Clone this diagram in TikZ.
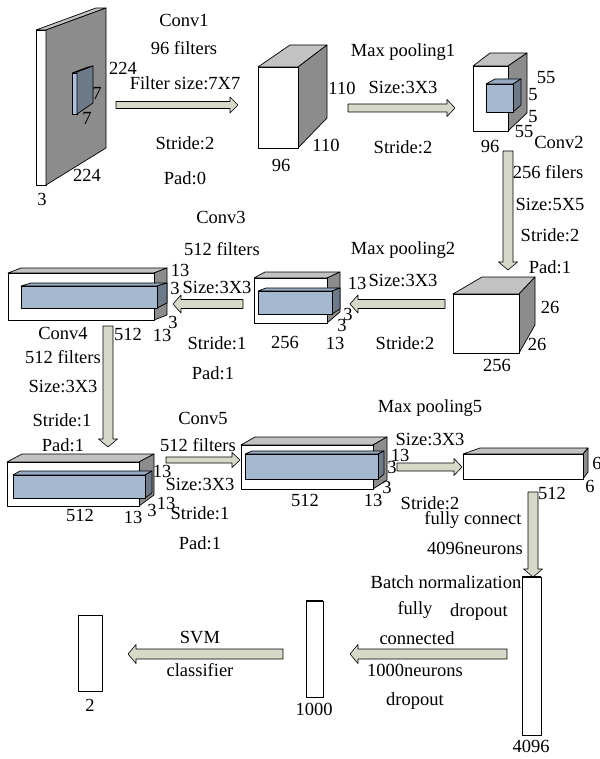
\documentclass[tikz,border=0pt]{standalone}
\usepackage{fontspec}
\setmainfont{Liberation Serif}
\usetikzlibrary{calc}
\definecolor{arrowfill}{RGB}{214,217,200}
\definecolor{sidegrey}{RGB}{140,140,140}
\definecolor{topgrey}{RGB}{194,194,194}
\definecolor{blueface}{RGB}{164,184,208}
\definecolor{blueside}{RGB}{108,122,138}
\definecolor{bluetop}{RGB}{150,170,196}
\definecolor{filterface}{RGB}{170,192,222}
\newcommand\harrow[3]{\filldraw[arr] let \p1=(#1), \p2=(#2), \n1={sign(\x2-\x1)} in
 (\x1,{\y1+#3pt}) -- ({\x2-(\n1)*8pt},{\y1+#3pt}) -- ({\x2-(\n1)*8pt},{\y1+#3pt+4.5pt}) -- (\x2,\y1)
 -- ({\x2-(\n1)*8pt},{\y1-#3pt-4.5pt}) -- ({\x2-(\n1)*8pt},{\y1-#3pt}) -- (\x1,{\y1-#3pt}) -- cycle;}
\newcommand\varrow[3]{\filldraw[arr] let \p1=(#1), \p2=(#2) in
 ({\x1-#3pt},\y1) -- ({\x1-#3pt},{\y2+8pt}) -- ({\x1-#3pt-4.5pt},{\y2+8pt}) -- (\x1,\y2)
 -- ({\x1+#3pt+4.5pt},{\y2+8pt}) -- ({\x1+#3pt},{\y2+8pt}) -- ({\x1+#3pt},\y1) -- cycle;}
\begin{document}
\begin{tikzpicture}[x=1pt,y=-1pt,
  lab/.style={font=\fontsize{18.5}{20}\selectfont, inner sep=0pt},
  face/.style={draw=black, line width=0.7pt, line join=round},
  wf/.style={face, fill=white},
  sf/.style={face, fill=sidegrey},
  tf/.style={face, fill=topgrey},
  bf/.style={face, fill=blueface},
  bs/.style={face, fill=blueside},
  bt/.style={face, fill=bluetop},
  bartop/.style={draw=black, line width=1.6pt},
  arr/.style={draw=black, line width=0.6pt, fill=arrowfill, line join=round}]
\useasboundingbox[fill=white] (0,0) rectangle (599,759);

% ---- block 1: input
\draw[tf] (36,30) -- (46,30) -- (106,8) -- (96,8) -- cycle;
\draw[wf] (36,30) rectangle (46,185);
\draw[sf] (46,30) -- (106,8) -- (106,148) -- (46,185) -- cycle;
\draw[face, fill=filterface] (72,73) rectangle (77,114);
\draw[bt] (72,73) -- (77,72) -- (93,66) -- (88,67) -- cycle;
\draw[bs] (77,72) -- (93,66) -- (93,103) -- (77,114) -- cycle;
\node[lab] (b1a) at (123,68) {224};
\node[lab] (b1b) at (97,93) {7};
\node[lab] (b1c) at (87,118) {7};
\node[lab] (b1d) at (87,175) {224};
\node[lab] (b1e) at (42,199) {3};
% conv1 text
\node[lab] (c1a) at (184,20) {Conv1};
\node[lab] (c1b) at (184,48) {96 filters};
\node[lab] (c1c) at (185,83) {Filter size:7X7};
\node[lab] (c1d) at (185,143) {Stride:2};
\node[lab] (c1e) at (185,178) {Pad:0};
\coordinate (a1s) at (116,105); \coordinate (a1e) at (238,105);
\harrow{a1s}{a1e}{3.5}

% ---- block 2
\draw[tf] (258,67) -- (290,45) -- (327,45) -- (298,67) -- cycle;
\draw[sf] (298,67) -- (327,45) -- (327,118) -- (298,148) -- cycle;
\draw[wf] (258,67) rectangle (298,148);
\node[lab] (b2a) at (342,88) {110};
\node[lab] (b2b) at (326,145) {110};
\node[lab] (b2c) at (281,165) {96};
\node[lab] (p1a) at (403,52) {Max pooling1};
\node[lab] (p1b) at (403,88) {Size:3X3};
\node[lab] (p1c) at (403,147) {Stride:2};
\coordinate (a2s) at (348,108); \coordinate (a2e) at (455,108);
\harrow{a2s}{a2e}{4}

% ---- block 3
\draw[tf] (473,66) -- (490,53) -- (527,53) -- (508,66) -- cycle;
\draw[sf] (508,66) -- (527,53) -- (527,113) -- (508,131) -- cycle;
\draw[wf] (473,66) rectangle (508,131);
\draw[bt] (486,84) -- (495,79) -- (521,79) -- (513,84) -- cycle;
\draw[bs] (513,84) -- (521,79) -- (521,105) -- (513,112) -- cycle;
\draw[bf] (486,84) rectangle (513,112);
\node[lab] (b3a) at (546,78) {55};
\node[lab] (b3b) at (533,95) {5};
\node[lab] (b3c) at (533,117) {5};
\node[lab] (b3d) at (524,132) {55};
\node[lab] (b3e) at (559,142) {Conv2};
\node[lab] (b3f) at (490,146) {96};
\node[lab] (c2a) at (548,172) {256 filers};
\node[lab] (c2b) at (550,205) {Size:5X5};
\node[lab] (c2c) at (550,235) {Stride:2};
\node[lab] (c2d) at (550,267) {Pad:1};
\coordinate (a3s) at (508,151); \coordinate (a3e) at (508,270);
\varrow{a3s}{a3e}{5}

% ---- block 4
\draw[tf] (453,294) -- (482,277) -- (535,277) -- (519,294) -- cycle;
\draw[sf] (519,294) -- (535,277) -- (535,325) -- (519,353) -- cycle;
\draw[wf] (453,294) rectangle (519,353);
\node[lab] (b4a) at (550,307) {26};
\node[lab] (b4b) at (537,344) {26};
\node[lab] (b4c) at (497,365) {256};
\node[lab] (p2a) at (403,250) {Max pooling2};
\node[lab] (p2b) at (403,281) {Size:3X3};
\node[lab] (p2c) at (405,343) {Stride:2};
\coordinate (a4s) at (445,304); \coordinate (a4e) at (350,304);
\harrow{a4s}{a4e}{4.5}

% ---- block 5
\draw[tf] (254,278) -- (265,272) -- (340,272) -- (327,278) -- cycle;
\draw[sf] (327,278) -- (340,272) -- (340,312) -- (327,323) -- cycle;
\draw[wf] (254,278) rectangle (327,323);
\draw[bt] (258,291) -- (266,288) -- (340,288) -- (332,291) -- cycle;
\draw[bs] (332,291) -- (340,288) -- (340,309) -- (332,314) -- cycle;
\draw[bf] (258,291) rectangle (332,314);
\node[lab] (b5a) at (357,283) {13};
\node[lab] (b5b) at (348,314) {3};
\node[lab] (b5c) at (342,325) {3};
\node[lab] (b5d) at (335,343) {13};
\node[lab] (b5e) at (285,342) {256};
\node[lab] (c3a) at (221,217) {Conv3};
\node[lab] (c3b) at (222,249) {512 filters};
\node[lab] (c3c) at (217,288) {Size:3X3};
\node[lab] (c3d) at (217,343) {Stride:1};
\node[lab] (c3e) at (213,373) {Pad:1};
\coordinate (a5s) at (243,304); \coordinate (a5e) at (173,304);
\harrow{a5s}{a5e}{4.5}

% ---- block 6
\draw[tf] (8,273) -- (21,268) -- (167,268) -- (154,273) -- cycle;
\draw[sf] (154,273) -- (167,268) -- (167,315) -- (154,320) -- cycle;
\draw[wf] (8,273) rectangle (154,320);
\draw[bt] (21,286) -- (31,283) -- (167,283) -- (157,286) -- cycle;
\draw[bs] (157,286) -- (167,283) -- (167,303) -- (157,308) -- cycle;
\draw[bf] (21,286) rectangle (157,308);
\node[lab] (b6a) at (180,270) {13};
\node[lab] (b6b) at (175,288) {3};
\node[lab] (b6c) at (173,322) {3};
\node[lab] (b6d) at (162,335) {13};
\node[lab] (b6e) at (128,334) {512};
\node[lab] (c4a) at (63,333) {Conv4};
\node[lab] (c4b) at (63,357) {512 filters};
\node[lab] (c4c) at (63,387) {Size:3X3};
\node[lab] (c4d) at (62,420) {Stride:1};
\node[lab] (c4e) at (63,445) {Pad:1};
\coordinate (a6s) at (108,326); \coordinate (a6e) at (108,447);
\varrow{a6s}{a6e}{5}

% ---- block 7
\draw[tf] (7,462) -- (22,454) -- (154,454) -- (139,462) -- cycle;
\draw[sf] (139,462) -- (154,454) -- (154,495) -- (139,506) -- cycle;
\draw[wf] (7,462) rectangle (139,506);
\draw[bt] (13,475) -- (20,471) -- (152,471) -- (145,475) -- cycle;
\draw[bs] (145,475) -- (152,471) -- (152,493) -- (145,498) -- cycle;
\draw[bf] (13,475) rectangle (145,498);
\node[lab] (b7a) at (162,471) {13};
\node[lab] (b7b) at (166,503) {13};
\node[lab] (b7c) at (152,510) {3};
\node[lab] (b7d) at (133,517) {13};
\node[lab] (b7e) at (80,515) {512};
\node[lab] (c5a) at (203,418) {Conv5};
\node[lab] (c5b) at (198,445) {512 filters};
\node[lab] (c5c) at (200,485) {Size:3X3};
\node[lab] (c5d) at (200,513) {Stride:1};
\node[lab] (c5e) at (200,543) {Pad:1};
\coordinate (a7s) at (166,460); \coordinate (a7e) at (240,460);
\harrow{a7s}{a7e}{3}

% ---- block 8
\draw[tf] (241,445) -- (255,437) -- (387,437) -- (373,445) -- cycle;
\draw[sf] (373,445) -- (387,437) -- (387,480) -- (373,489) -- cycle;
\draw[wf] (241,445) rectangle (373,489);
\draw[bt] (245,454) -- (252,451) -- (384,451) -- (378,454) -- cycle;
\draw[bs] (378,454) -- (384,451) -- (384,474) -- (378,479) -- cycle;
\draw[bf] (245,454) rectangle (378,479);
\node[lab] (b8a) at (400,455) {13};
\node[lab] (b8b) at (392,467) {3};
\node[lab] (b8c) at (387,487) {3};
\node[lab] (b8d) at (373,500) {13};
\node[lab] (b8e) at (305,500) {512};
\node[lab] (p5a) at (430,408) {Max pooling5};
\node[lab] (p5b) at (430,440) {Size:3X3};
\node[lab] (p5c) at (430,503) {Stride:2};
\node[lab] (p5d) at (473,520) {fully connect};
\node[lab] (p5e) at (475,548) {4096neurons};
\coordinate (a8s) at (397,467); \coordinate (a8e) at (462,467);
\harrow{a8s}{a8e}{4}

% ---- block 9
\draw[tf] (463,454) -- (480,448) -- (588,448) -- (583,454) -- cycle;
\draw[sf] (583,454) -- (588,448) -- (588,472) -- (583,479) -- cycle;
\draw[wf] (463,454) rectangle (583,479);
\node[lab] (b9a) at (597,463) {6};
\node[lab] (b9b) at (590,486) {6};
\node[lab] (b9c) at (552,493) {512};
\coordinate (a9s) at (533,492); \coordinate (a9e) at (533,577);
\varrow{a9s}{a9e}{5}

% ---- bottom row
\draw[wf] (522,577) rectangle (541,735);
\draw[bartop] (522,577) -- (541,577);
\node[lab] (f1) at (531,746) {4096};
\draw[wf] (306,601) rectangle (323,697);
\draw[bartop] (306,601) -- (323,601);
\node[lab] (f2) at (314,709) {1000};
\draw[wf] (78,615) rectangle (102,691);
\node[lab] (f3) at (90,705) {2};
\node[lab] (d1) at (446,582) {Batch normalization};
\node[lab] (d2) at (415,610) {fully};
\node[lab] (d3) at (479,612) {dropout};
\node[lab] (d4) at (417,638) {connected};
\node[lab] (d5) at (415,670) {1000neurons};
\node[lab] (d6) at (415,701) {dropout};
\node[lab] (s1) at (200,638) {SVM};
\node[lab] (s2) at (200,670) {classifier};
\coordinate (a10s) at (507,654); \coordinate (a10e) at (350,654);
\harrow{a10s}{a10e}{5}
\coordinate (a11s) at (283,654); \coordinate (a11e) at (128,654);
\harrow{a11s}{a11e}{5}
\end{tikzpicture}
\end{document}
